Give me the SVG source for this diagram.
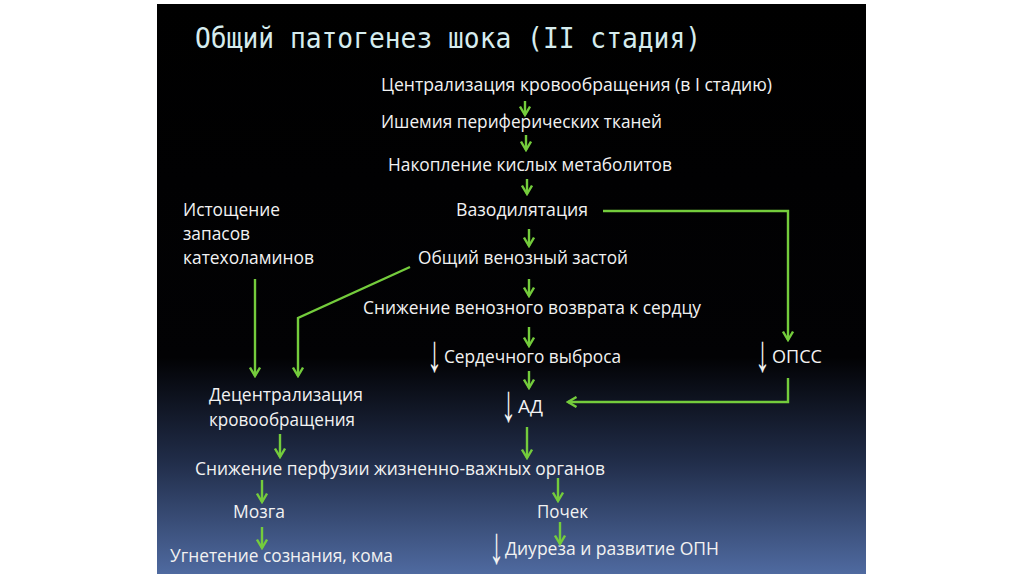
<svg xmlns="http://www.w3.org/2000/svg" width="1024" height="574" viewBox="0 0 1024 574">
<defs>
<linearGradient id="bg" gradientUnits="userSpaceOnUse" x1="0" y1="4" x2="0" y2="574">
<stop offset="0" stop-color="#000000"/>
<stop offset="0.62" stop-color="#020204"/>
<stop offset="0.8" stop-color="#202c48"/>
<stop offset="1" stop-color="#4f6aa0"/>
</linearGradient>
<marker id="ah" markerUnits="userSpaceOnUse" viewBox="0 0 12 12" refX="10" refY="6" markerWidth="12" markerHeight="12" orient="auto">
<path d="M1.5,1 L10,6 L1.5,11" fill="none" stroke="#74cc3c" stroke-width="2.4" stroke-linejoin="miter"/>
</marker>
<style>
.t{font-family:"Open Sans","Liberation Sans",sans-serif;font-size:19px;fill:#f2f2f2;}
.d{font-family:"Liberation Sans",sans-serif;font-size:30px;fill:#f2f2f2;}
.ti{font-family:"DejaVu Sans Mono","Liberation Mono",monospace;font-size:28px;fill:#d6ecee;}
.c line,.c polyline{stroke:#74cc3c;stroke-width:2.4;fill:none;marker-end:url(#ah);}
</style>
</defs>
<rect x="0" y="0" width="1024" height="574" fill="#ffffff"/>
<rect x="157" y="4" width="709" height="570" fill="url(#bg)"/>
<text class="ti" x="195" y="48" textLength="506" lengthAdjust="spacingAndGlyphs">Общий патогенез шока (II стадия)</text>

<g id="n1"><text class="t" x="381" y="91" textLength="391" lengthAdjust="spacingAndGlyphs">Централизация кровообращения (в I стадию)</text></g>
<g id="n2"><text class="t" x="381" y="128" textLength="281" lengthAdjust="spacingAndGlyphs">Ишемия периферических тканей</text></g>
<g id="n3"><text class="t" x="388" y="171" textLength="284" lengthAdjust="spacingAndGlyphs">Накопление кислых метаболитов</text></g>
<g id="n4"><text class="t" x="456" y="216" textLength="132" lengthAdjust="spacingAndGlyphs">Вазодилятация</text></g>
<g id="n5"><text class="t" x="418" y="264" textLength="210" lengthAdjust="spacingAndGlyphs">Общий венозный застой</text></g>
<g id="n6"><text class="t" x="363" y="314" textLength="338" lengthAdjust="spacingAndGlyphs">Снижение венозного возврата к сердцу</text></g>
<g id="n7"><text class="d" transform="translate(427,371) scale(1,1.75)">↓</text><text class="t" x="444" y="363" textLength="177" lengthAdjust="spacingAndGlyphs">Сердечного выброса</text></g>
<g id="n8"><text class="d" transform="translate(755,371) scale(1,1.75)">↓</text><text class="t" x="772" y="363" textLength="50" lengthAdjust="spacingAndGlyphs">ОПСС</text></g>
<g id="n9"><text class="d" transform="translate(501,421) scale(1,1.75)">↓</text><text class="t" x="518" y="413" textLength="25" lengthAdjust="spacingAndGlyphs">АД</text></g>
<g id="n10">
<text class="t" x="183" y="216" textLength="97" lengthAdjust="spacingAndGlyphs">Истощение</text>
<text class="t" x="183" y="240" textLength="67" lengthAdjust="spacingAndGlyphs">запасов</text>
<text class="t" x="183" y="264" textLength="131" lengthAdjust="spacingAndGlyphs">катехоламинов</text>
</g>
<g id="n11">
<text class="t" x="209" y="401" textLength="154" lengthAdjust="spacingAndGlyphs">Децентрализация</text>
<text class="t" x="209" y="426" textLength="146" lengthAdjust="spacingAndGlyphs">кровообращения</text>
</g>
<g id="n12"><text class="t" x="195" y="475" textLength="410" lengthAdjust="spacingAndGlyphs">Снижение перфузии жизненно-важных органов</text></g>
<g id="n13"><text class="t" x="233" y="518" textLength="52" lengthAdjust="spacingAndGlyphs">Мозга</text></g>
<g id="n14"><text class="t" x="537" y="518" textLength="51" lengthAdjust="spacingAndGlyphs">Почек</text></g>
<g id="n15"><text class="t" x="170" y="562" textLength="223" lengthAdjust="spacingAndGlyphs">Угнетение сознания, кома</text></g>
<g id="n16"><text class="d" transform="translate(489,563) scale(1,1.75)">↓</text><text class="t" x="505" y="555" textLength="214" lengthAdjust="spacingAndGlyphs">Диуреза и развитие ОПН</text></g>

<g id="connectors" class="c">
<line x1="525" y1="101" x2="525" y2="115"/>
<line x1="526" y1="135" x2="526" y2="150"/>
<line x1="527" y1="179" x2="527" y2="194"/>
<line x1="529" y1="229" x2="529" y2="246"/>
<line x1="529" y1="279" x2="529" y2="296"/>
<line x1="529" y1="327" x2="529" y2="346"/>
<line x1="529" y1="371" x2="529" y2="388"/>
<polyline points="603,211 788,211 788,340"/>
<polyline points="788,378 788,402 568,402"/>
<line x1="527" y1="427" x2="527" y2="458"/>
<line x1="255" y1="279" x2="255" y2="376"/>
<polyline points="410,267 298,318 298,376"/>
<line x1="280" y1="434" x2="280" y2="457"/>
<line x1="262" y1="480" x2="262" y2="502"/>
<line x1="262" y1="527" x2="262" y2="548"/>
<line x1="558" y1="478" x2="558" y2="501"/>
<line x1="560" y1="522" x2="560" y2="544"/>
</g>
</svg>
